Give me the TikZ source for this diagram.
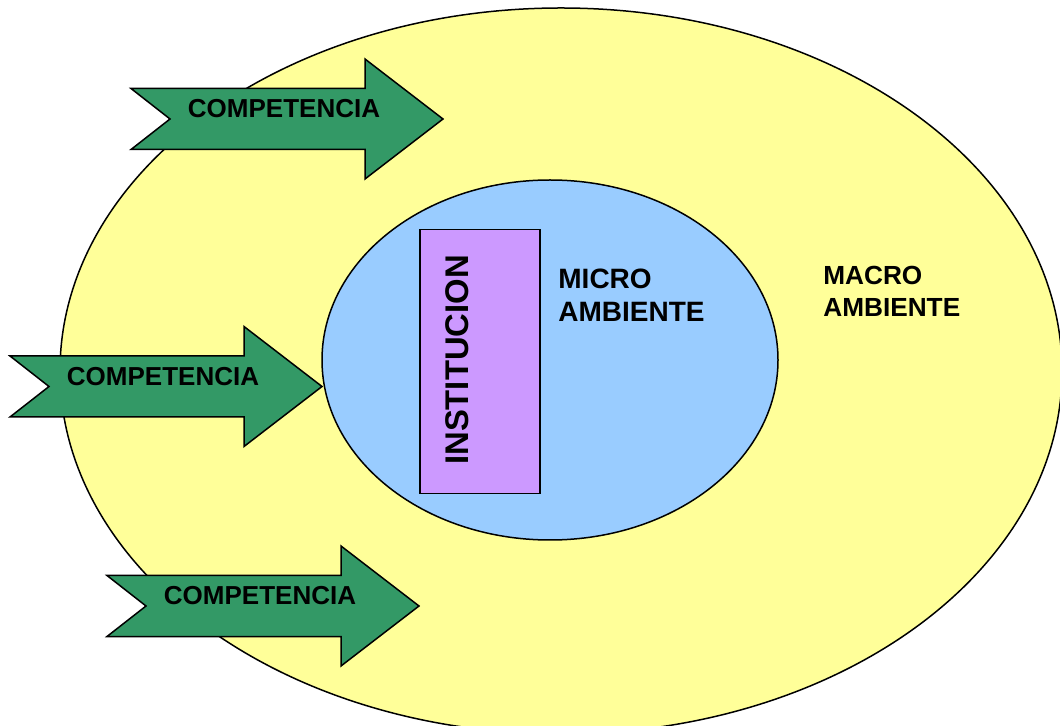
\documentclass[tikz,border=0pt]{standalone}
\usepackage{fontspec}
\setmainfont{Liberation Sans}
\usetikzlibrary{shapes.geometric,positioning,calc}
\definecolor{amarillo}{HTML}{FFFF99}
\definecolor{celeste}{HTML}{99CCFF}
\definecolor{lila}{HTML}{CC99FF}
\definecolor{verde}{HTML}{339966}
\tikzset{
  elipse/.style={ellipse, draw, line width=0.75pt, inner sep=0pt},
  flechaverde/.style={draw, fill=verde, line width=0.75pt, line join=miter},
  rotulo/.style={font=\fontsize{13}{15}\selectfont\bfseries, inner sep=0pt},
  ambiente/.style={font=\fontsize{14}{16.5}\selectfont\bfseries, inner sep=0pt, align=left, anchor=base west}
}
% flecha con cola dentada: x y del extremo de la cola, nombre del rotulo
\newcommand{\flecha}[3]{%
  \draw[flechaverde] (#1,#2) ++(0,-30.5) -- ++(234,0) -- ++(0,-29.5) -- ++(78,60)
    -- ++(-78,60) -- ++(0,-29.5) -- ++(-234,0) -- ++(39,-30.5) -- cycle;
  \node[rotulo] (#3) at ($(#1,#2)+(153,-10)$) {COMPETENCIA};}

\begin{document}
\begin{tikzpicture}[x=0.5pt, y=-0.5pt]
      \useasboundingbox (0,0) rectangle (1060,726);
      \clip (0,0) rectangle (1060,726);

      \node[elipse, fill=amarillo, minimum width=501pt, minimum height=363pt] (macro) at (561,371) {};
      \node[elipse, fill=celeste, minimum width=228pt, minimum height=180pt] (micro) at (550,360) {};
      \node[draw, line width=0.75pt, fill=lila, minimum width=60pt, minimum height=132pt,
            inner sep=0pt, anchor=north west] (inst) at (419,229) {};

      \node[rotulo, font=\fontsize{16.4}{18}\selectfont\bfseries, rotate=90] (insttxt) at (457,360) {INSTITUCION};
      \node[ambiente] (microtxt) at (558,322) {MICRO\\AMBIENTE};
      \node[ambiente, font=\fontsize{13.1}{16}\selectfont\bfseries] (macrotxt) at (823,317) {MACRO\\AMBIENTE};

      \flecha{131}{119}{comp1}
      \flecha{10}{386.5}{comp2}
      \flecha{107}{606}{comp3}
\end{tikzpicture}
\end{document}
